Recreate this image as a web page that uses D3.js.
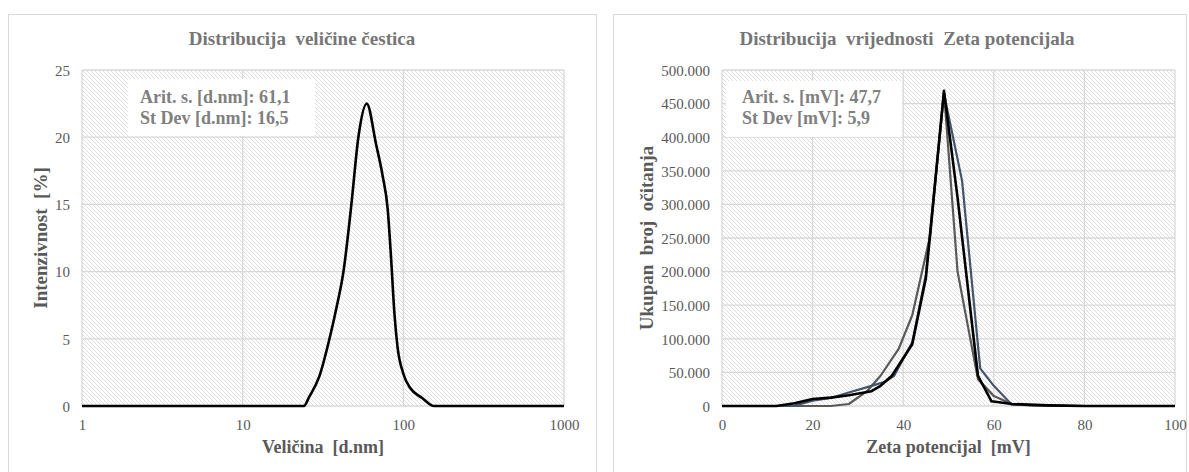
<!DOCTYPE html>
<html><head><meta charset="utf-8">
<script src="https://cdn.jsdelivr.net/npm/d3@7"></script>
<style>
body{margin:0;background:#fff;}
text{font-family:"Liberation Serif","Times New Roman",serif;}
</style></head>
<body>
<svg id="c" width="1189" height="472"></svg>
<script>
// ---------- DATA ----------
const sizeX = [1, 2, 4, 8, 12, 16, 20, 22.5, 24, 26, 30, 34.7, 38.5, 42.4, 47.5, 52.5, 59.2, 67.6, 74.4, 80, 84, 88, 92, 100, 111, 131, 155, 200, 400, 1000];
const intensity = [0, 0, 0, 0, 0, 0, 0, 0, 0, 0.7, 2.2, 5.0, 7.4, 10.0, 15.0, 20.0, 22.5, 19.5, 17.1, 14.6, 10.9, 6.9, 4.4, 2.4, 1.3, 0.6, 0, 0, 0, 0];
const sizeTicks = [1, 10, 100, 1000];
const intensityTicks = [0, 5, 10, 15, 20, 25];

const zetaX1 = [0, 10, 20, 24, 28, 32, 35, 39, 42, 46, 49, 52, 56.5, 60, 64, 68, 72, 80, 100];
const count1 = [0, 0, 0, 0, 3000, 22000, 45000, 85000, 135000, 255000, 468000, 200000, 40000, 15000, 3000, 1000, 500, 0, 0];
const zetaX2 = [0, 12, 16, 20, 24, 28, 33, 36, 38, 42, 45, 49, 53, 57, 60, 64, 72, 80, 100];
const count2 = [0, 0, 500, 8000, 12000, 20000, 30000, 36000, 45000, 95000, 195000, 465000, 335000, 56000, 30000, 2000, 500, 0, 0];
const zetaX3 = [0, 12, 16, 20, 24, 28, 33, 35, 37.5, 42, 45, 49, 52, 56.5, 59.5, 64, 72, 80, 100];
const count3 = [0, 0, 4000, 10500, 12500, 16000, 22000, 30000, 45000, 92000, 190000, 469000, 310000, 45000, 7000, 3000, 1000, 0, 0];
const zetaTicks = [0, 20, 40, 60, 80, 100];
const countTicks = [0, 50000, 100000, 150000, 200000, 250000, 300000, 350000, 400000, 450000, 500000];

const leftTitle = "Distribucija\u00a0\u00a0veličine čestica";
const rightTitle = "Distribucija\u00a0\u00a0vrijednosti\u00a0\u00a0Zeta potencijala";
const leftXTitle = "Veličina\u00a0\u00a0[d.nm]";
const leftYTitle = "Intenzivnost\u00a0\u00a0[%]";
const rightXTitle = "Zeta potencijal\u00a0\u00a0[mV]";
const rightYTitle = "Ukupan\u00a0\u00a0broj\u00a0\u00a0očitanja";
const leftNote = ["Arit. s. [d.nm]: 61,1", "St Dev [d.nm]: 16,5"];
const rightNote = ["Arit. s. [mV]: 47,7", "St Dev [mV]: 5,9"];
const seriesColors = ["#595959", "#44546A", "#000000"];

// ---------- DRAW ----------
const svg = d3.select("#c");
const defs = svg.append("defs");
const pat = defs.append("pattern").attr("id", "hatch").attr("patternUnits", "userSpaceOnUse")
  .attr("width", 4).attr("height", 4);
pat.append("rect").attr("width", 4).attr("height", 4).attr("fill", "#fff");
pat.append("path").attr("d", "M-1,-1L5,5M-1,3L1,5M3,-1L5,1").attr("stroke", "#dedede").attr("stroke-width", 1);

const locale = d3.formatLocale({decimal: ",", thousands: ".", grouping: [3], currency: ["", ""]});
const fmtCount = locale.format(",");

function frame(x0, x1) {
  svg.append("rect").attr("x", x0 + 0.5).attr("y", 14.5).attr("width", x1 - x0).attr("height", 480)
    .attr("fill", "#fff").attr("stroke", "#d9d9d9").attr("stroke-width", 1);
}
frame(8, 596);
frame(613, 1186);

function panel(o) {
  const g = svg.append("g");
  const {x, y} = o;
  const [px0, px1] = x.range();
  const [py0, py1] = y.range();
  g.append("rect").attr("x", px0).attr("y", py1).attr("width", px1 - px0).attr("height", py0 - py1)
    .attr("fill", "url(#hatch)");
  g.selectAll(".hg").data(o.yTicks).join("line")
    .attr("x1", px0).attr("x2", px1).attr("y1", d => y(d)).attr("y2", d => y(d))
    .attr("stroke", "#d9d9d9").attr("stroke-width", 1.3);
  g.selectAll(".vg").data(o.xTicks).join("line")
    .attr("y1", py0).attr("y2", py1).attr("x1", d => x(d)).attr("x2", d => x(d))
    .attr("stroke", "#d9d9d9").attr("stroke-width", 1.3);
  g.append("rect").attr("x", o.note.x).attr("y", o.note.y).attr("width", o.note.w).attr("height", o.note.h).attr("fill", "#fff");
  o.note.lines.forEach((t, i) => {
    g.append("text").attr("x", o.note.tx).attr("y", o.note.ty + i * 21).text(t)
      .attr("font-size", 18).attr("font-weight", "bold").attr("fill", "#808080");
  });
  const xa = g.append("g").attr("transform", `translate(0,${py0 + 24})`)
    .call(d3.axisBottom(x).tickValues(o.xTicks).tickFormat(o.xFmt).tickSize(0).tickPadding(0));
  xa.select(".domain").remove();
  xa.selectAll("text").attr("font-size", 15).attr("fill", "#595959").attr("dy", 0)
    .attr("font-family", "Liberation Serif");
  const ya = g.append("g").attr("transform", `translate(${px0 - 12},0)`)
    .call(d3.axisLeft(y).tickValues(o.yTicks).tickFormat(o.yFmt).tickSize(0).tickPadding(0));
  ya.select(".domain").remove();
  ya.selectAll("text").attr("font-size", 15).attr("fill", "#595959").attr("dy", "0.35em")
    .attr("font-family", "Liberation Serif");
  g.append("text").attr("x", o.titleX).attr("y", 45).attr("text-anchor", "middle").text(o.title)
    .attr("font-size", 19).attr("font-weight", "bold").attr("fill", "#767676");
  g.append("text").attr("x", (px0 + px1) / 2).attr("y", 453).attr("text-anchor", "middle").text(o.xTitle)
    .attr("font-size", 18).attr("font-weight", "bold").attr("fill", "#595959");
  g.append("text").attr("transform", `translate(${o.yTitleX},${(py0 + py1) / 2}) rotate(-90)`)
    .attr("text-anchor", "middle").text(o.yTitle)
    .attr("font-size", 19).attr("font-weight", "bold").attr("fill", "#595959");
  return g;
}

// Left chart
const xL = d3.scaleLog().domain([1, 1000]).range([82, 564]);
const yL = d3.scaleLinear().domain([0, 25]).range([406, 70]);
const gL = panel({x: xL, y: yL, xTicks: sizeTicks, yTicks: intensityTicks,
  xFmt: d3.format("d"), yFmt: d3.format("d"),
  title: leftTitle, titleX: 302, xTitle: leftXTitle, yTitle: leftYTitle, yTitleX: 47,
  note: {x: 128, y: 79, w: 187, h: 57, tx: 140, ty: 103, lines: leftNote}});
const lineL = d3.line().x((d, i) => xL(sizeX[i])).y(d => yL(d)).curve(d3.curveMonotoneX);
gL.append("path").attr("d", lineL(intensity)).attr("fill", "none").attr("stroke", "#000")
  .attr("stroke-width", 2.6).attr("stroke-linejoin", "round");

// Right chart
const xR = d3.scaleLinear().domain([0, 100]).range([722, 1175]);
const yR = d3.scaleLinear().domain([0, 500000]).range([406, 70]);
const gR = panel({x: xR, y: yR, xTicks: zetaTicks, yTicks: countTicks,
  xFmt: d3.format("d"), yFmt: fmtCount,
  title: rightTitle, titleX: 907, xTitle: rightXTitle, yTitle: rightYTitle, yTitleX: 653,
  note: {x: 726, y: 81, w: 176, h: 56, tx: 742, ty: 103, lines: rightNote}});
const series = [[zetaX1, count1], [zetaX2, count2], [zetaX3, count3]];
series.forEach(([xs, ys], k) => {
  const ln = d3.line().x((d, i) => xR(xs[i])).y(d => yR(d));
  gR.append("path").attr("d", ln(ys)).attr("fill", "none").attr("stroke", seriesColors[k])
    .attr("stroke-width", k === 2 ? 2.6 : 2.2).attr("stroke-linejoin", "round");
});
</script>
</body></html>
